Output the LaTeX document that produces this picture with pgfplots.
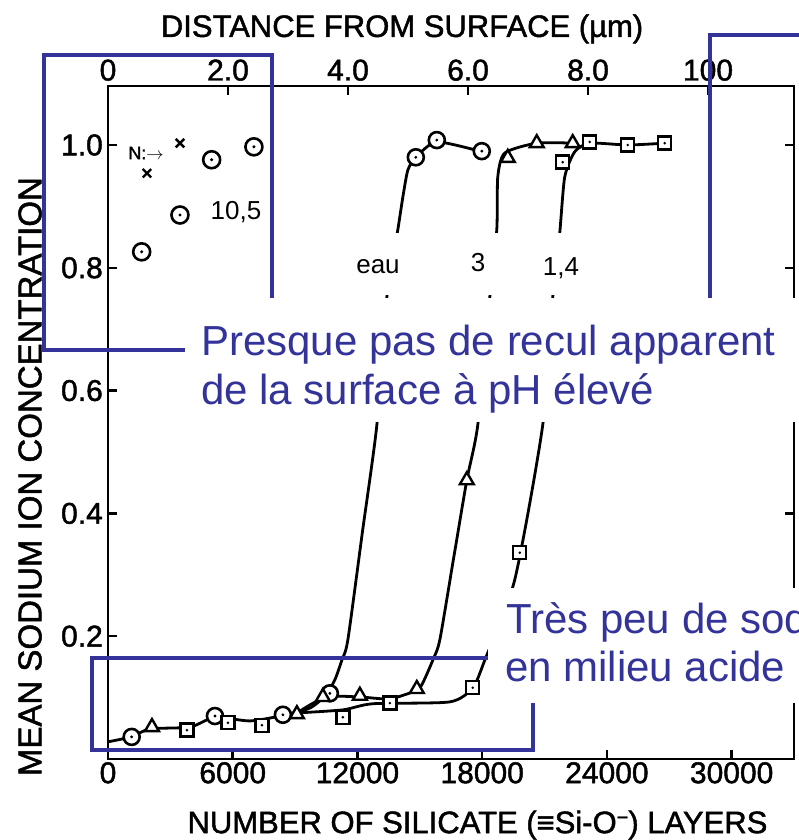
\documentclass[border=0pt]{standalone}
\usepackage{pgfplots}
\pgfplotsset{compat=1.18}
\usepackage{fontspec}
\setmainfont{Liberation Sans}
\newfontfamily\scanfont[FakeBold=1.5]{Liberation Sans}
\definecolor{annblue}{RGB}{51,51,153}
\newcommand{\tk}{\scanfont\fontsize{30}{30}\selectfont}
\newcommand{\ttl}{\scanfont\fontsize{31}{31}\selectfont}
\newcommand{\bigt}{\fontsize{42}{48}\selectfont}
\newcommand{\lbl}{\fontsize{26}{26}\selectfont}

\pgfdeclareplotmark{odot}{%
  \pgfpathcircle{\pgfpointorigin}{\pgfplotmarksize}\pgfusepathqfillstroke
  \pgfscope\pgfsetfillcolor{black}%
  \pgfpathcircle{\pgfpointorigin}{0.2\pgfplotmarksize}\pgfusepathqfill\endpgfscope}
\pgfdeclareplotmark{sqdot}{%
  \pgfpathrectangle{\pgfpoint{-\pgfplotmarksize}{-\pgfplotmarksize}}{\pgfpoint{2\pgfplotmarksize}{2\pgfplotmarksize}}\pgfusepathqfillstroke
  \pgfscope\pgfsetfillcolor{black}%
  \pgfpathcircle{\pgfpointorigin}{0.22\pgfplotmarksize}\pgfusepathqfill\endpgfscope}

\begin{document}
\begin{tikzpicture}
\useasboundingbox (0,0) rectangle (799pt,840pt);
\clip (0,0) rectangle (799pt,840pt);

% top axis (distance from surface)
\begin{axis}[
  at={(108pt,81pt)}, anchor=south west, scale only axis,
  width=686pt, height=673pt,
  xmin=0, xmax=11.433, ymin=0, ymax=1,
  hide y axis,
  axis line style={line width=2.8pt},
  xtick={0,2,4,6,8,10},
  xticklabels={0,2.0,4.0,6.0,8.0,100},
  xtick pos=right, xticklabel pos=right,
  tick align=inside, major tick length=9pt,
  tick style={line width=2.5pt,black},
  xticklabel style={font=\tk, inner sep=0pt, yshift=5pt},
  xlabel={DISTANCE FROM SURFACE (µm)},
  xlabel style={at={(axis description cs:0.4286,1.0848)}, anchor=center, font=\ttl},
]
\addplot[draw=none] coordinates {(0,0)};
\end{axis}

% main axis
\begin{axis}[
  at={(108pt,81pt)}, anchor=south west, scale only axis,
  width=686pt, height=673pt,
  xmin=0, xmax=33000, ymin=0, ymax=1.0961,
  scaled x ticks=false, scaled y ticks=false,
  axis line style={line width=2.8pt},
  xtick={0,6000,12000,18000,24000,30000},
  xticklabels={0,6000,12000,18000,24000,30000},
  ytick={0.2,0.4,0.6,0.8,1.0},
  yticklabels={0.2,0.4,0.6,0.8,1.0},
  xtick pos=left, ytick pos=both, yticklabel pos=left,
  tick align=inside, major tick length=9pt,
  tick style={line width=2.5pt,black},
  xticklabel style={font=\tk, inner sep=0pt, yshift=-3pt},
  yticklabel style={font=\tk, inner sep=0pt, xshift=-5pt},
  xlabel={NUMBER OF SILICATE (≡Si-O\raisebox{0.55ex}{\fontsize{20}{20}\selectfont −}) LAYERS},
  xlabel style={at={(axis description cs:0.5386,-0.0982)}, anchor=center, font=\ttl},
  ylabel={MEAN SODIUM ION CONCENTRATION},
  ylabel style={at={(axis description cs:-0.1137,0.4196)}, anchor=center, font=\scanfont\fontsize{33}{33}\selectfont},
  clip=false,
]
% eau (water) curve
\addplot[black, line width=2.8pt, smooth, tension=0.4] table {
x y
0 0.028
1106 0.036
2019 0.049
3942 0.052
5144 0.068
6827 0.062
8413 0.071
9712 0.083
10481 0.104
10913 0.129
11250 0.161
11538 0.194
12236 0.369
12933 0.544
13413 0.752
13942 0.862
14183 0.915
14423 0.959
14808 0.980
15817 1.005
17981 0.989
};
% pH 3 curve
\addplot[black, line width=2.8pt, smooth, tension=0.4] table {
x y
9087 0.075
10481 0.101
12115 0.101
13558 0.098
14856 0.112
15144 0.124
15625 0.161
15962 0.194
16611 0.324
17260 0.454
17788 0.544
18365 0.752
18702 0.862
18750 0.948
19087 0.987
20625 1.003
22356 1.003
};
% pH 1.4 curve
\addplot[black, line width=2.8pt, smooth, tension=0.4] table {
x y
9087 0.075
11298 0.080
12740 0.090
16442 0.093
17548 0.116
18125 0.161
19567 0.292
20913 0.544
21394 0.752
21731 0.857
21971 0.948
22452 0.989
23173 1.003
25000 1.000
26779 1.003
};
% pH 10.5 circles
\addplot[only marks, mark=odot, mark size=8.5pt, line width=2.6pt, mark options={fill=white}] table {
x y
1620 0.826
3462 0.886
4986 0.976
7019 0.997
};
% crosses
\addplot[only marks, mark=x, mark size=6pt, line width=2.4pt] table {
x y
3462 1.003
1875 0.954
};
% eau circles
\addplot[only marks, mark=odot, mark size=8pt, line width=2.6pt, mark options={fill=white}] table {
x y
1139 0.036
5144 0.070
8413 0.072
10673 0.107
14808 0.980
15817 1.008
17981 0.990
};
% pH 3 triangles
\addplot[only marks, mark=triangle*, mark size=8pt, line width=2.4pt, mark options={fill=white}] table {
x y
2115 0.052
9087 0.073
10337 0.101
12115 0.103
14856 0.114
17260 0.454
19231 0.979
20625 1.003
22356 1.003
};
% pH 1.4 squares
\addplot[only marks, mark=sqdot, mark size=6.5pt, line width=2.4pt, mark options={fill=white}] table {
x y
3798 0.047
5769 0.059
7404 0.055
11298 0.068
13558 0.091
17548 0.116
19808 0.336
21875 0.972
23173 1.005
25000 1.000
26779 1.003
};
\end{axis}

\begin{scope}[x=1pt,y=-1pt,yshift=840pt]
  \fill[white] (340,233) rectangle (600,295);
  \draw[annblue, line width=3.6pt] (44,55) rectangle (272,350);
  \draw[annblue, line width=3.6pt] (710,35) rectangle (860,350);
  \draw[annblue, line width=3.6pt] (92,658) rectangle (533,750);
  \fill[white] (185,298) rectangle (810,422);
  \fill[white] (488,588) rectangle (810,703);
  \node[anchor=base west, inner sep=0pt, text=annblue, font=\bigt] at (201,356) {Presque pas de recul apparent};
  \node[anchor=base west, inner sep=0pt, text=annblue, font=\bigt] at (201,405) {de la surface à pH élevé};
  \node[anchor=base west, inner sep=0pt, text=annblue, font=\bigt] at (506,634) {Très peu de sodium};
  \node[anchor=base west, inner sep=0pt, text=annblue, font=\bigt] at (505,682) {en milieu acide};
  \node[font=\lbl, inner sep=0pt] at (378,267) {eau};
  \node[font=\lbl, inner sep=0pt] at (478,263) {3};
  \node[font=\lbl, inner sep=0pt] at (561,268) {1,4};
  \node[font=\lbl, inner sep=0pt] at (236,212) {10,5};
  \node[font=\scanfont\fontsize{18}{18}\selectfont, inner sep=0pt] at (146,153) {N:$\rightarrow$};
\end{scope}
\end{tikzpicture}
\end{document}
